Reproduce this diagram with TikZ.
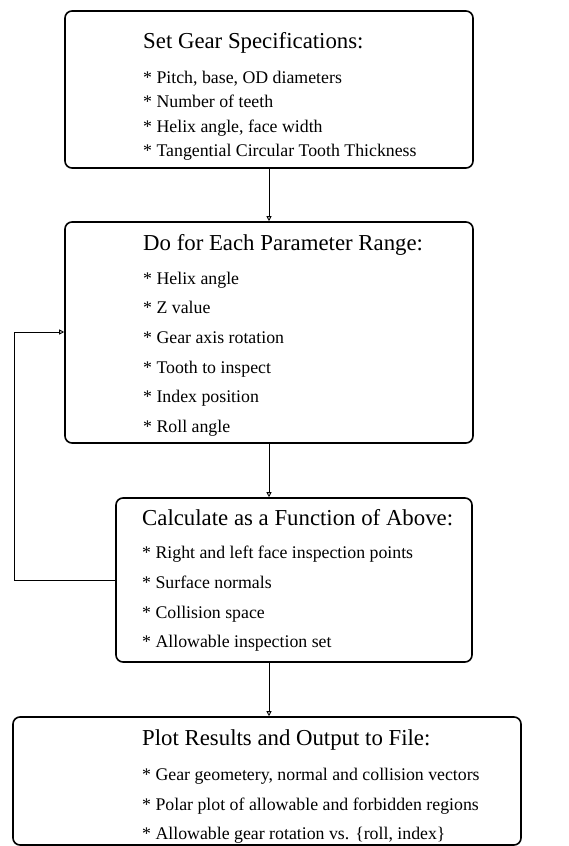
\documentclass[tikz,border=0pt]{standalone}
\usepackage{fontspec}
\setmainfont{Liberation Serif}
\usetikzlibrary{arrows.meta}
\begin{document}
\begin{tikzpicture}[x=1pt,y=-1pt,
  box/.style={draw,line width=1.6pt,rounded corners=7pt,inner sep=0pt},
  ttl/.style={anchor=base west,inner sep=0pt,font=\fontsize{22.8}{24}\selectfont},
  itm/.style={anchor=base west,inner sep=0pt,font=\fontsize{17.8}{19}\selectfont},
  arr/.style={line width=0.9pt,-{Triangle[open,length=5pt,width=5pt]}}]
\useasboundingbox (0,0) rectangle (568,846);
% boxes
\node[box,minimum width=408pt,minimum height=157pt] (b1) at (269,89.5) {};
\node[box,minimum width=408pt,minimum height=221pt] (b2) at (269,332.5) {};
\node[box,minimum width=356pt,minimum height=164pt] (b3) at (294,580) {};
\node[box,minimum width=508pt,minimum height=128pt] (b4) at (267,781) {};
% box 1
\node[ttl] (t1) at (143,48) {Set Gear Specifications:};
\node[itm] (t1a) at (143,83) {* Pitch, base, OD diameters};
\node[itm] (t1b) at (143,107.5) {* Number of teeth};
\node[itm] (t1c) at (143,132) {* Helix angle, face width};
\node[itm] (t1d) at (143,156) {* Tangential Circular Tooth Thickness};
% box 2
\node[ttl] (t2) at (143,250) {Do for Each Parameter Range:};
\node[itm] (t2a) at (143,284) {* Helix angle};
\node[itm] (t2b) at (143,313.5) {* Z value};
\node[itm] (t2c) at (143,343) {* Gear axis rotation};
\node[itm] (t2d) at (143,373) {* Tooth to inspect};
\node[itm] (t2e) at (143,402.5) {* Index position};
\node[itm] (t2f) at (143,432) {* Roll angle};
% box 3
\node[ttl] (t3) at (142,525) {Calculate as a Function of Above:};
\node[itm] (t3a) at (142,558) {* Right and left face inspection points};
\node[itm] (t3b) at (142,588) {* Surface normals};
\node[itm] (t3c) at (142,618) {* Collision space};
\node[itm] (t3d) at (142,647) {* Allowable inspection set};
% box 4
\node[ttl] (t4) at (142,745) {Plot Results and Output to File:};
\node[itm] (t4a) at (142,780) {* Gear geometery, normal and collision vectors};
\node[itm] (t4b) at (142,810) {* Polar plot of allowable and forbidden regions};
\node[itm] (t4c) at (142,839.5) {* Allowable gear rotation vs. \{roll, index\}};
% connectors
\draw[arr] (b1.south) -- (b2.north);
\draw[arr] (b2.south) -- (b2.south |- b3.north);
\draw[arr] (b2.south |- b3.south) -- (b2.south |- b4.north);
\coordinate (k) at (14,332);
\draw[arr] (b3.west) -| (k) -- (k -| b2.west);
\end{tikzpicture}
\end{document}
